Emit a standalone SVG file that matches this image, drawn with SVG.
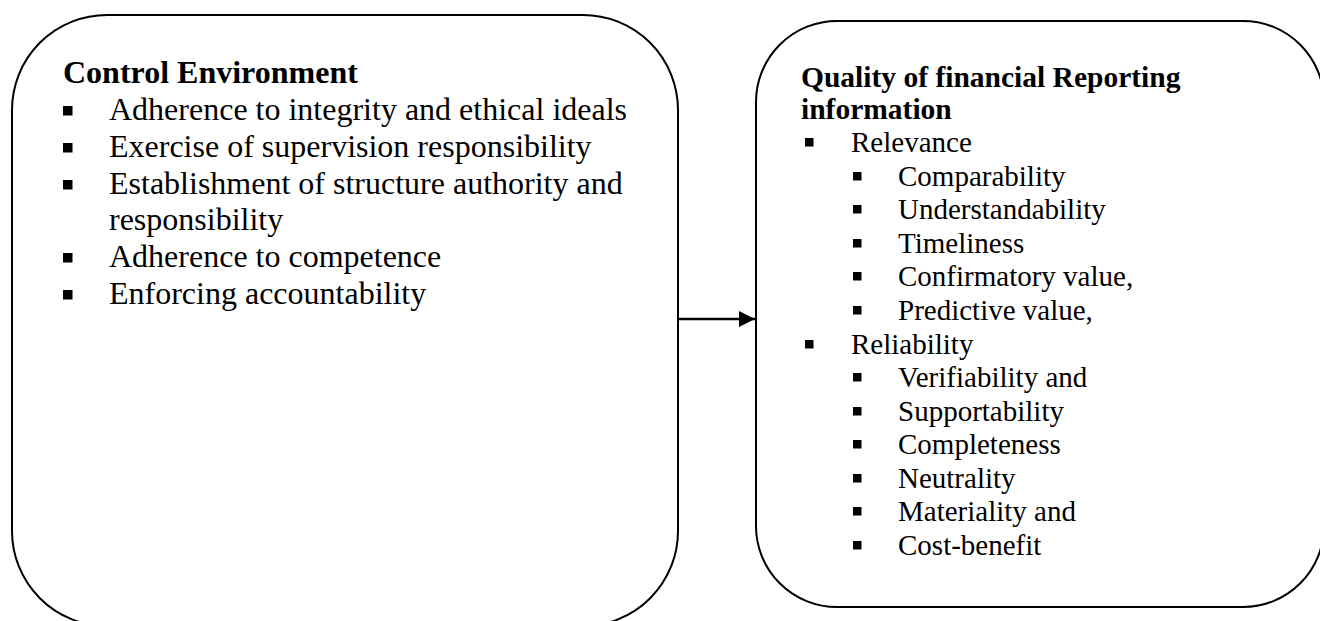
<svg xmlns="http://www.w3.org/2000/svg" width="1320" height="621" viewBox="0 0 1320 621">
  <defs>
    <style>
      .box { fill: #fff; stroke: #000; stroke-width: 2; }
      .t { font-family: "Liberation Serif", "Times New Roman", serif; fill: #000; }
      .l { font-size: 32px; }
      .r { font-size: 29px; }
      .rb { font-size: 29.5px; font-weight: bold; }
      .b { font-weight: bold; }
      .blt { fill: #000; }
      .conn { stroke: #000; stroke-width: 2.5; fill: none; }
    </style>
    <marker id="arrow" markerUnits="userSpaceOnUse" markerWidth="17" markerHeight="17" refX="16" refY="8.5" orient="auto">
      <path d="M0,0.5 L16,8.5 L0,16.5 Z" fill="#000"/>
    </marker>
  </defs>
  <rect width="1320" height="621" fill="#fff"/>

  <g id="node-control-environment">
    <rect class="box" x="12" y="15" width="666" height="611" rx="95" ry="95"/>
    <text class="t l b" x="63" y="83">Control Environment</text>
    <rect class="blt" x="63" y="106" width="9.5" height="9.5"/>
    <text class="t l" x="109" y="120">Adherence to integrity and ethical ideals</text>
    <rect class="blt" x="63" y="143" width="9.5" height="9.5"/>
    <text class="t l" x="109" y="157">Exercise of supervision responsibility</text>
    <rect class="blt" x="63" y="180" width="9.5" height="9.5"/>
    <text class="t l" x="109" y="194">Establishment of structure authority and</text>
    <text class="t l" x="109" y="230">responsibility</text>
    <rect class="blt" x="63" y="253" width="9.5" height="9.5"/>
    <text class="t l" x="109" y="267">Adherence to competence</text>
    <rect class="blt" x="63" y="290" width="9.5" height="9.5"/>
    <text class="t l" x="109" y="304">Enforcing accountability</text>
  </g>

  <g id="node-quality-reporting">
    <rect class="box" x="756" y="21" width="568" height="586" rx="81" ry="81"/>
    <text class="t rb" x="801" y="87">Quality of financial Reporting</text>
    <text class="t rb" x="801" y="119">information</text>
    <rect class="blt" x="805" y="138" width="8.5" height="8.5"/>
    <text class="t r" x="851" y="152">Relevance</text>
    <rect class="blt" x="853" y="172" width="8.5" height="8.5"/>
    <text class="t r" x="898" y="186">Comparability</text>
    <rect class="blt" x="853" y="205" width="8.5" height="8.5"/>
    <text class="t r" x="898" y="219">Understandability</text>
    <rect class="blt" x="853" y="239" width="8.5" height="8.5"/>
    <text class="t r" x="898" y="253">Timeliness</text>
    <rect class="blt" x="853" y="272" width="8.5" height="8.5"/>
    <text class="t r" x="898" y="286">Confirmatory value,</text>
    <rect class="blt" x="853" y="306" width="8.5" height="8.5"/>
    <text class="t r" x="898" y="320">Predictive value,</text>
    <rect class="blt" x="805" y="340" width="8.5" height="8.5"/>
    <text class="t r" x="851" y="354">Reliability</text>
    <rect class="blt" x="853" y="373" width="8.5" height="8.5"/>
    <text class="t r" x="898" y="387">Verifiability and</text>
    <rect class="blt" x="853" y="407" width="8.5" height="8.5"/>
    <text class="t r" x="898" y="421">Supportability</text>
    <rect class="blt" x="853" y="440" width="8.5" height="8.5"/>
    <text class="t r" x="898" y="454">Completeness</text>
    <rect class="blt" x="853" y="474" width="8.5" height="8.5"/>
    <text class="t r" x="898" y="488">Neutrality</text>
    <rect class="blt" x="853" y="507" width="8.5" height="8.5"/>
    <text class="t r" x="898" y="521">Materiality and</text>
    <rect class="blt" x="853" y="541" width="8.5" height="8.5"/>
    <text class="t r" x="898" y="555">Cost-benefit</text>
  </g>

  <g id="connectors">
    <line class="conn" x1="678" y1="319" x2="755" y2="319" marker-end="url(#arrow)"/>
  </g>
</svg>
